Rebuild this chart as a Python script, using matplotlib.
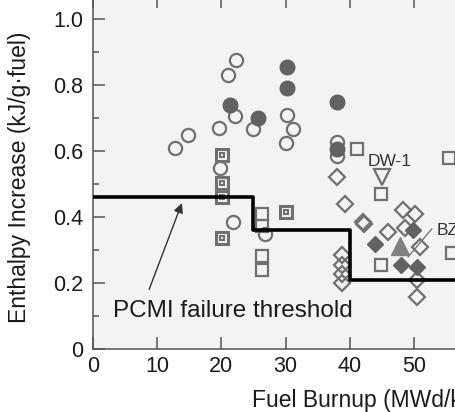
import numpy as np
import matplotlib
matplotlib.use('Agg')
import matplotlib.pyplot as plt

plt.rcParams['font.family'] = ['Liberation Sans', 'DejaVu Sans']

# data
open_circ_x = [12.8, 14.8, 19.6, 19.8, 21.0, 22.3, 22.1, 21.8, 24.9, 26.8, 30.2, 31.2, 30.1, 38.0, 38.0]
open_circ_y = [0.61, 0.65, 0.67, 0.55, 0.83, 0.876, 0.706, 0.385, 0.667, 0.35, 0.71, 0.667, 0.625, 0.628, 0.585]

filled_circ_x = [21.3, 25.7, 30.2, 30.2, 38.0, 38.0]
filled_circ_y = [0.74, 0.70, 0.855, 0.79, 0.75, 0.605]

dot_sq_x = [20.1, 20.1, 20.1, 20.1, 30.1]
dot_sq_y = [0.588, 0.503, 0.46, 0.336, 0.415]

open_sq_x = [26.3, 26.3, 26.3, 26.3, 41.1, 44.9, 44.9, 55.5, 55.9]
open_sq_y = [0.41, 0.373, 0.283, 0.24, 0.605, 0.47, 0.255, 0.58, 0.29]

open_dia_x = [38.0, 39.3, 42.0, 42.3, 45.9, 48.3, 50.2, 48.6, 50.9, 50.5, 50.5,
              38.8, 38.8, 38.8, 38.8]
open_dia_y = [0.52, 0.44, 0.385, 0.378, 0.354, 0.42, 0.41, 0.367, 0.31, 0.21, 0.158,
              0.285, 0.255, 0.228, 0.20]

filled_dia_x = [43.9, 49.9, 48.0, 50.5]
filled_dia_y = [0.318, 0.36, 0.255, 0.25]

dw1_x, dw1_y = [45.0], [0.52]
bz_x, bz_y = [47.8], [0.312]

thr_x = [0, 25, 40, 60]
thr_y = [0.46, 0.36, 0.21, 0.21]

W, H = 455, 412
fig = plt.figure(figsize=(W / 100, H / 100), dpi=100)
ax = fig.add_axes([93 / W, 63 / H, 385 / W, 353 / H])
ax.set_facecolor('#f3f3f3')
ax.set_xlim(0, 60)
ax.set_ylim(0, 1.07)

edge = '#707070'
fill = '#626262'

ax.plot(open_circ_x, open_circ_y, 'o', ms=9.5, mfc='none', mec=edge, mew=1.6, zorder=2)
ax.plot(filled_circ_x, filled_circ_y, 'o', ms=10.5, mfc=fill, mec=fill, zorder=3)
ax.plot(open_sq_x, open_sq_y, 's', ms=9, mfc='none', mec=edge, mew=1.6, zorder=2)
ax.plot(dot_sq_x, dot_sq_y, 's', ms=9, mfc='none', mec=edge, mew=2.2, zorder=2)
ax.plot(dot_sq_x, dot_sq_y, 's', ms=3.5, mfc='none', mec=edge, mew=1.5, zorder=2)
ax.plot(open_dia_x, open_dia_y, 'D', ms=8, mfc='none', mec=edge, mew=1.6, zorder=2)
ax.plot(filled_dia_x, filled_dia_y, 'D', ms=8, mfc=fill, mec=fill, zorder=3)
ax.plot(dw1_x, dw1_y, 'v', ms=12, mfc='none', mec=edge, mew=1.6, zorder=2)
ax.plot(bz_x, bz_y, '^', ms=13, mfc='#808080', mec='#808080', zorder=3)

ax.step(thr_x, thr_y, where='post', color='black', lw=2.6, zorder=4)

ax.text(3.1, 0.098, 'PCMI failure threshold', fontsize=17.5, color='#1a1a1a')
ax.annotate('', xy=(14.0, 0.45), xytext=(8.6, 0.173),
            arrowprops=dict(arrowstyle='-|>', color='#333333', lw=1,
                            mutation_scale=14))
ax.text(42.8, 0.555, 'DW-1', fontsize=12.5, color='#333333')
ax.text(53.6, 0.345, 'BZ', fontsize=12.5, color='#333333')
ax.plot([52.8, 49.1], [0.364, 0.279], color='#777777', lw=1, zorder=5)

ax.set_xticks([0, 10, 20, 30, 40, 50])
ax.set_yticks([0, 0.2, 0.4, 0.6, 0.8, 1.0])
ax.set_yticklabels(['0', '0.2', '0.4', '0.6', '0.8', '1.0'])
ax.set_yticks(np.arange(0.1, 1.05, 0.2), minor=True)
ax.tick_params(which='both', direction='in', top=True, right=True,
               color='#555555', width=1.1, labelsize=15.5, labelcolor='#1a1a1a')
ax.tick_params(which='major', length=8.5)
ax.tick_params(which='minor', length=4.3)
ax.tick_params(axis='x', pad=5)
ax.tick_params(axis='y', pad=7)
for s in ax.spines.values():
    s.set_color('#555555')
    s.set_linewidth(1.1)

ax.set_ylabel('Enthalpy Increase (kJ/g\u00b7fuel)', fontsize=16.5, color='#1a1a1a')
ax.yaxis.set_label_coords(-0.16, 172 / 353)
fig.text(252 / W, 5 / H, 'Fuel Burnup (MWd/kgU)', fontsize=16.5, color='#1a1a1a',
         ha='left', va='baseline')

fig.savefig('out.png', dpi=100)
